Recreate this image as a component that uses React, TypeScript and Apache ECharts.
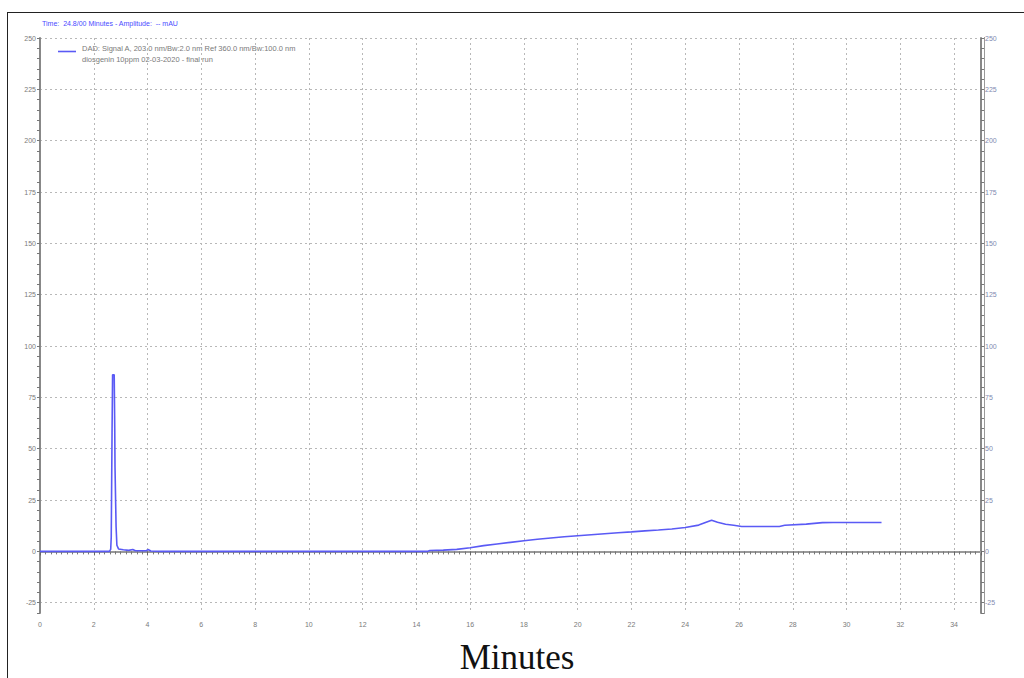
import React, { useEffect, useRef } from "react";
import * as echarts from "echarts";

const times: number[] = [
  0, 2.58, 2.63, 2.65, 2.68, 2.7, 2.76, 2.78, 2.79, 2.81, 2.83, 2.86, 2.92, 3.1, 3.3, 3.45, 3.55, 3.95, 4.02, 4.12, 4.5,
  14.4, 14.5, 15.0, 15.5, 16.0, 16.5, 17.0, 17.5, 18.0, 18.5, 19.0, 19.5, 20.0, 20.5, 21.0, 21.5, 22.0, 22.5, 23.0,
  23.5, 24.0, 24.5, 24.8, 24.98, 25.2, 25.5, 25.8, 26.1, 27.5, 27.7, 28.5, 29.1, 29.5, 31.3,
];
const amplitudes: number[] = [
  0, 0, 1, 7, 58, 86, 86, 60, 41, 41, 12, 3, 1.2, 0.8, 0.5, 0.9, 0.3, 0.3, 0.9, 0.2, 0,
  0, 0.4, 0.6, 1.0, 1.8, 2.8, 3.6, 4.4, 5.2, 5.9, 6.5, 7.1, 7.6, 8.1, 8.6, 9.1, 9.5, 10.0, 10.4,
  10.9, 11.6, 12.8, 14.3, 15.2, 14.2, 13.2, 12.7, 12.1, 12.1, 12.7, 13.3, 14.0, 14.1, 14.1,
];
const yTickLabels: number[] = [-25, 0, 25, 50, 75, 100, 125, 150, 175, 200, 225, 250];
const headerText = "Time:  24.8/00 Minutes - Amplitude:  -- mAU";
const legendLine1 = "DAD: Signal A, 203.0 nm/Bw:2.0 nm Ref 360.0 nm/Bw:100.0 nm";
const legendLine2 = "diosgenin 10ppm 02-03-2020 - final run";
const xTitle = "Minutes";

const Y_MIN = -30;
const Y_MAX = 250;
const X_MIN = 0;
const X_MAX = 35;

export default function App() {
  const ref = useRef<HTMLDivElement>(null);
  useEffect(() => {
    if (!ref.current) return;
    const chart = echarts.init(ref.current, undefined, { renderer: "svg" });
    const labelStyle = { fontSize: 7, color: "#7a7a7a", fontFamily: "Liberation Sans, Arial" };
    const gridLine = { show: true, lineStyle: { color: "#b8b8b8", type: [2, 3] as any, width: 1 } };
    const data = times.map((t, i) => [t, amplitudes[i]]);
    chart.setOption({
      animation: false,
      backgroundColor: "#ffffff",
      grid: { left: 40, right: 43, top: 38, bottom: 65, containLabel: false },
      xAxis: [
        {
          type: "value",
          min: X_MIN,
          max: X_MAX,
          interval: 2,
          position: "bottom",
          axisLine: { show: true, lineStyle: { color: "#888", width: 2 } },
          axisTick: { show: true, length: 4, lineStyle: { color: "#666" } },
          minorTick: { show: true, splitNumber: 10, length: 3, lineStyle: { color: "#777" } },
          axisLabel: { ...labelStyle, margin: 8, showMaxLabel: false },
          splitLine: gridLine,
        },
        {
          type: "value",
          min: X_MIN,
          max: X_MAX,
          position: "top",
          axisLine: { show: true, lineStyle: { color: "#999", width: 2 } },
          axisTick: { show: false },
          axisLabel: { show: false },
          splitLine: { show: false },
        },
      ],
      yAxis: [
        {
          type: "value",
          min: Y_MIN,
          max: Y_MAX,
          interval: 5,
          position: "left",
          axisLine: { show: true, lineStyle: { color: "#888", width: 2 } },
          axisTick: { show: true, length: 3, lineStyle: { color: "#777" } },
          axisLabel: { ...labelStyle, margin: 4, customValues: yTickLabels },
          splitLine: { show: false },
        },
        {
          type: "value",
          min: Y_MIN,
          max: Y_MAX,
          position: "left",
          axisLine: { show: false },
          axisTick: { show: false, customValues: yTickLabels },
          axisLabel: { show: false, customValues: yTickLabels },
          splitLine: gridLine,
        },
        {
          type: "value",
          min: Y_MIN,
          max: Y_MAX,
          interval: 5,
          position: "right",
          axisLine: { show: true, lineStyle: { color: "#888", width: 2 } },
          axisTick: { show: true, length: 3, lineStyle: { color: "#777" } },
          axisLabel: { ...labelStyle, color: "#7f8ab0", margin: 4, customValues: yTickLabels },
          splitLine: { show: false },
        },
      ],
      series: [
        {
          type: "line",
          xAxisIndex: 0,
          yAxisIndex: 0,
          data,
          showSymbol: false,
          symbol: "none",
          lineStyle: { color: "#5a5af5", width: 1.6 },
        },
      ],
      graphic: [
        { type: "line", shape: { x1: 7, y1: 12.5, x2: 1024, y2: 12.5 }, style: { stroke: "#222", lineWidth: 1 } },
        { type: "line", shape: { x1: 7.5, y1: 12, x2: 7.5, y2: 678 }, style: { stroke: "#222", lineWidth: 1 } },
        { type: "line", shape: { x1: 984.5, y1: 37, x2: 984.5, y2: 614 }, style: { stroke: "#999", lineWidth: 1 } },
        {
          type: "text",
          left: 42,
          top: 20,
          style: { text: headerText, fill: "#4a4aff", fontSize: 7, fontFamily: "Liberation Sans, Arial" },
        },
        { type: "line", shape: { x1: 58, y1: 51.5, x2: 76, y2: 51.5 }, style: { stroke: "#5a5af5", lineWidth: 1.6 } },
        {
          type: "text",
          left: 82,
          top: 44,
          style: { text: legendLine1, fill: "#7a7a7a", fontSize: 7.5, fontFamily: "Liberation Sans, Arial" },
        },
        {
          type: "text",
          left: 82,
          top: 55,
          style: { text: legendLine2, fill: "#7a7a7a", fontSize: 7.5, fontFamily: "Liberation Sans, Arial" },
        },
        {
          type: "text",
          x: 517,
          y: 657,
          style: {
            text: xTitle,
            fill: "#111",
            fontSize: 35,
            fontFamily: "Liberation Serif, Times New Roman, serif",
            align: "center",
            verticalAlign: "middle",
          },
        },
      ],
    });
    return () => chart.dispose();
  }, []);
  return (
    <div
      ref={ref}
      style={{ position: "fixed", left: 0, top: 0, width: 1024, height: 678, background: "#fff" }}
    />
  );
}
